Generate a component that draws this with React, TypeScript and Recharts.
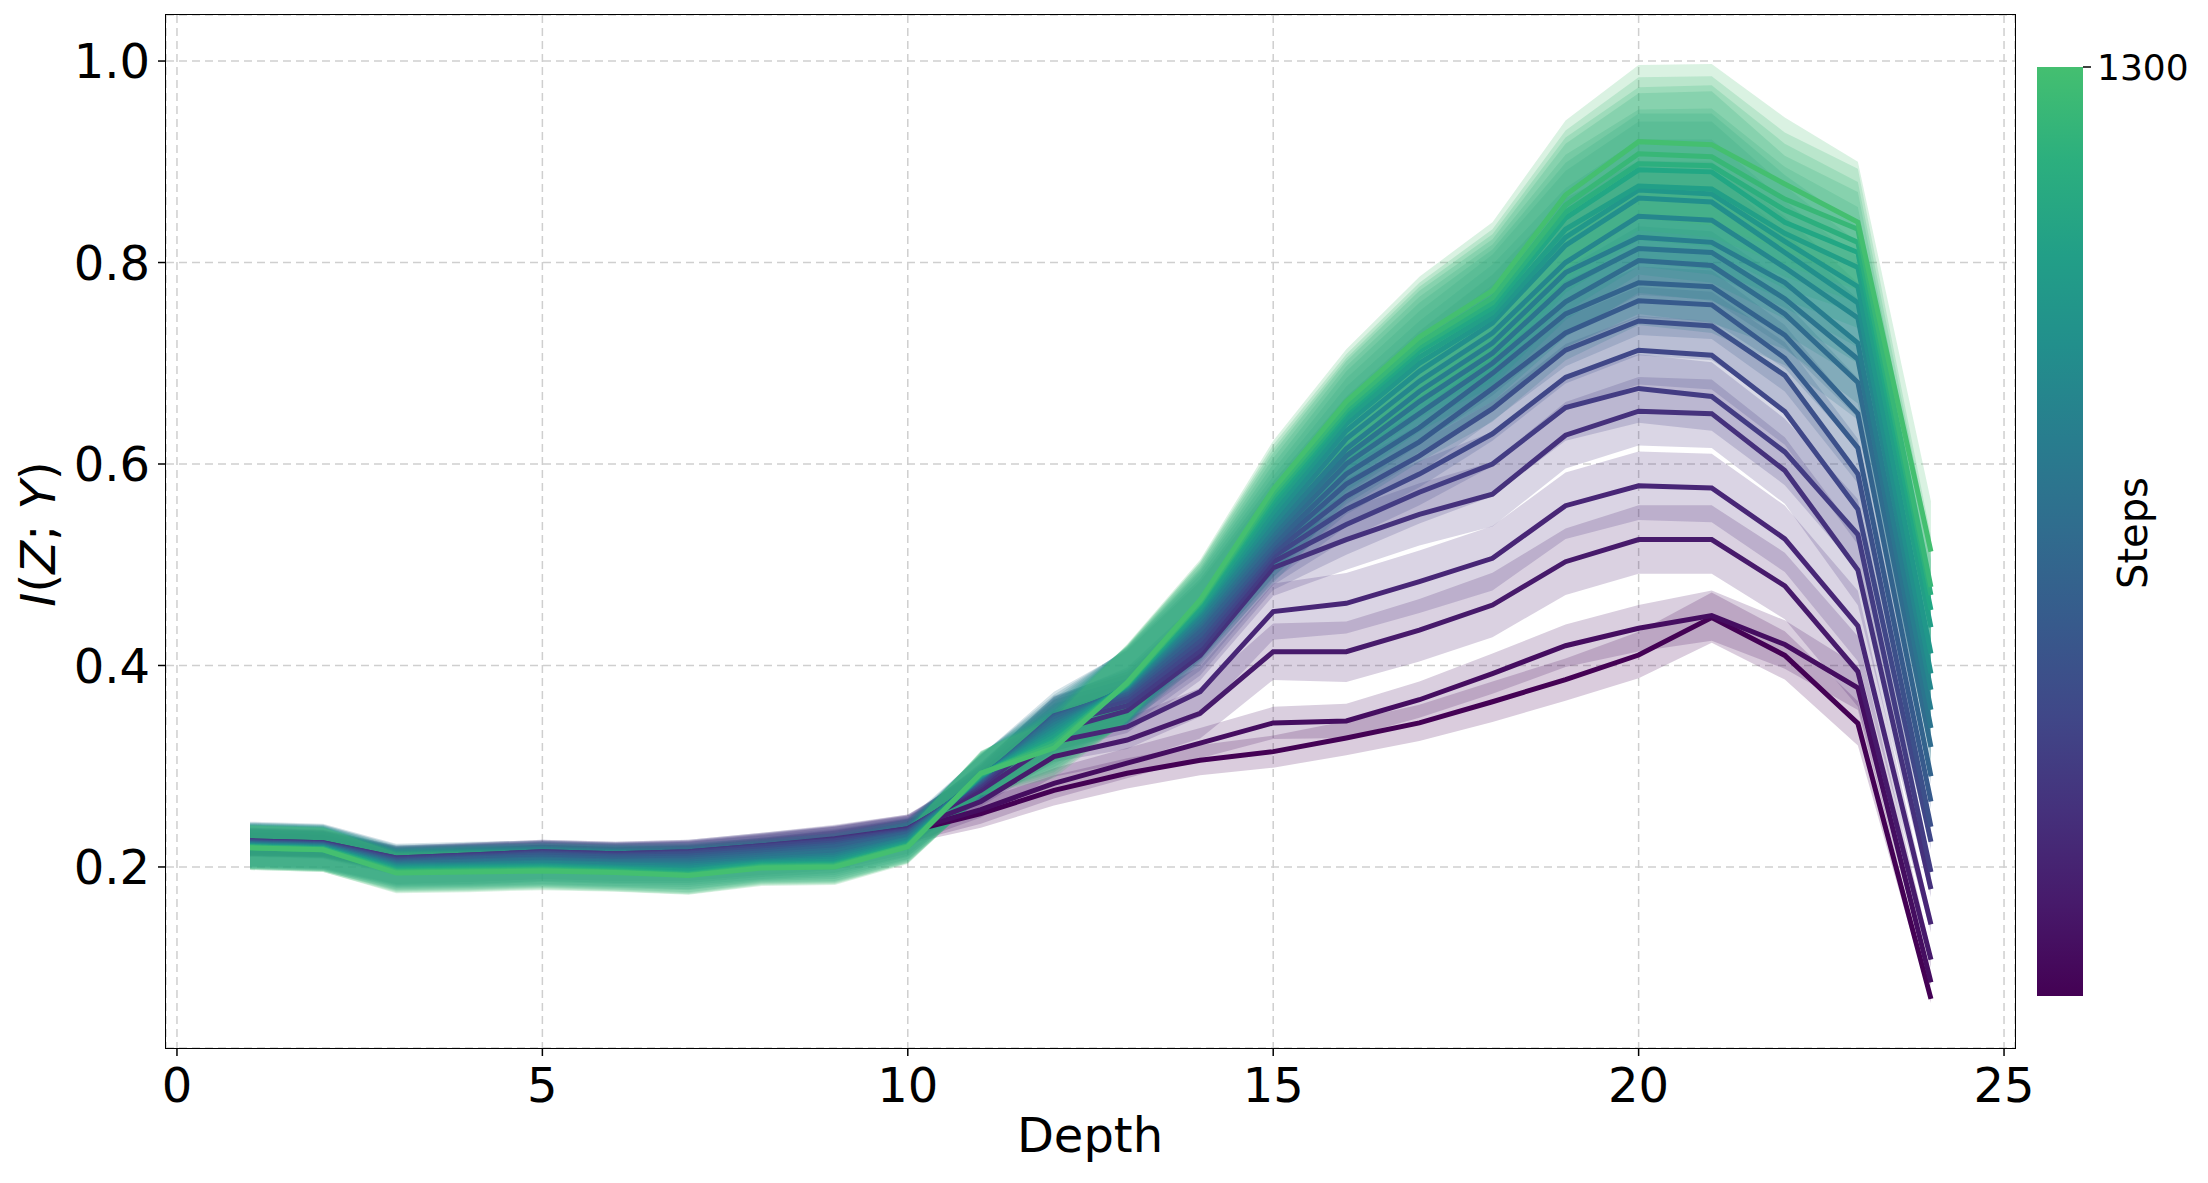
import { ComposedChart, Line, Area, XAxis, YAxis, CartesianGrid } from 'recharts';

const depths = [1, 2, 3, 4, 5, 6, 7, 8, 9, 10, 11, 12, 13, 14, 15, 16, 17, 18, 19, 20, 21, 22, 23, 24];

// training step of each curve (colour only)
const steps = [0, 65, 130, 195, 260, 325, 390, 455, 520, 585, 650, 715, 780, 845, 910, 975, 1040, 1105, 1170, 1235, 1300];

// mean I(Z;Y) per depth, one array per step
const line00 = [0.2225, 0.221, 0.205, 0.208, 0.212, 0.209, 0.211, 0.217, 0.224, 0.235, 0.253, 0.276, 0.293, 0.306, 0.3145, 0.328, 0.343, 0.364, 0.386, 0.4104, 0.4475, 0.41, 0.3425, 0.069];
const line01 = [0.223, 0.222, 0.206, 0.209, 0.212, 0.21, 0.212, 0.218, 0.225, 0.236, 0.257, 0.283, 0.303, 0.323, 0.343, 0.345, 0.366, 0.392, 0.4196, 0.437, 0.4495, 0.4208, 0.3777, 0.0854];
const line02 = [0.224, 0.222, 0.207, 0.21, 0.213, 0.211, 0.213, 0.219, 0.226, 0.237, 0.265, 0.3095, 0.326, 0.3526, 0.4137, 0.4137, 0.435, 0.46, 0.503, 0.525, 0.525, 0.479, 0.394, 0.108];
const line03 = [0.225, 0.223, 0.208, 0.211, 0.214, 0.212, 0.214, 0.22, 0.227, 0.238, 0.276, 0.3243, 0.339, 0.374, 0.4535, 0.4617, 0.4832, 0.5064, 0.5586, 0.5784, 0.5763, 0.5257, 0.4392, 0.143];
const line04 = [0.226, 0.224, 0.209, 0.212, 0.215, 0.213, 0.215, 0.221, 0.228, 0.238, 0.28, 0.335, 0.355, 0.41, 0.497, 0.525, 0.55, 0.57, 0.6286, 0.6524, 0.65, 0.5935, 0.4948, 0.178];
const line05 = [0.226, 0.224, 0.209, 0.212, 0.215, 0.213, 0.215, 0.221, 0.227, 0.237, 0.282, 0.342, 0.36, 0.415, 0.503, 0.54, 0.572, 0.6, 0.656, 0.675, 0.667, 0.612, 0.53, 0.195];
const line06 = [0.225, 0.223, 0.208, 0.211, 0.214, 0.212, 0.214, 0.22, 0.226, 0.236, 0.284, 0.346, 0.365, 0.42, 0.508, 0.555, 0.59, 0.63, 0.686, 0.713, 0.708, 0.652, 0.555, 0.225];
const line07 = [0.225, 0.223, 0.207, 0.21, 0.213, 0.211, 0.213, 0.218, 0.224, 0.235, 0.285, 0.349, 0.369, 0.425, 0.512, 0.568, 0.608, 0.655, 0.713, 0.742, 0.737, 0.688, 0.59, 0.24];
const line08 = [0.224, 0.222, 0.206, 0.209, 0.212, 0.21, 0.211, 0.216, 0.222, 0.234, 0.286, 0.35, 0.372, 0.43, 0.516, 0.58, 0.622, 0.675, 0.73, 0.762, 0.758, 0.705, 0.616, 0.265];
const line09 = [0.224, 0.222, 0.205, 0.208, 0.21, 0.208, 0.209, 0.214, 0.22, 0.233, 0.287, 0.349, 0.374, 0.435, 0.52, 0.59, 0.636, 0.69, 0.749, 0.78, 0.776, 0.728, 0.65, 0.29];
const line10 = [0.223, 0.221, 0.204, 0.206, 0.208, 0.206, 0.207, 0.212, 0.217, 0.231, 0.288, 0.347, 0.376, 0.44, 0.525, 0.6, 0.65, 0.7, 0.761, 0.802, 0.797, 0.749, 0.681, 0.319];
const line11 = [0.223, 0.221, 0.203, 0.205, 0.207, 0.205, 0.205, 0.21, 0.215, 0.23, 0.289, 0.344, 0.377, 0.443, 0.53, 0.608, 0.662, 0.71, 0.777, 0.814, 0.81, 0.764, 0.704, 0.338];
const line12 = [0.222, 0.22, 0.202, 0.203, 0.205, 0.203, 0.203, 0.208, 0.212, 0.228, 0.289, 0.341, 0.378, 0.446, 0.535, 0.615, 0.672, 0.72, 0.79, 0.825, 0.82, 0.78, 0.72, 0.356];
const line13 = [0.222, 0.22, 0.201, 0.202, 0.204, 0.202, 0.201, 0.206, 0.21, 0.227, 0.29, 0.338, 0.379, 0.45, 0.54, 0.625, 0.682, 0.73, 0.8, 0.846, 0.842, 0.795, 0.745, 0.376];
const line14 = [0.221, 0.219, 0.2, 0.201, 0.202, 0.2, 0.199, 0.205, 0.208, 0.225, 0.29, 0.335, 0.38, 0.453, 0.546, 0.633, 0.692, 0.74, 0.817, 0.864, 0.86, 0.81, 0.76, 0.392];
const line15 = [0.221, 0.219, 0.199, 0.2, 0.201, 0.199, 0.197, 0.204, 0.206, 0.224, 0.291, 0.332, 0.38, 0.455, 0.552, 0.64, 0.7, 0.745, 0.825, 0.872, 0.868, 0.821, 0.776, 0.412];
const line16 = [0.22, 0.218, 0.198, 0.199, 0.2, 0.198, 0.196, 0.203, 0.204, 0.223, 0.291, 0.329, 0.381, 0.457, 0.558, 0.645, 0.706, 0.75, 0.833, 0.876, 0.873, 0.829, 0.795, 0.438];
const line17 = [0.22, 0.218, 0.197, 0.198, 0.199, 0.197, 0.194, 0.202, 0.203, 0.222, 0.292, 0.326, 0.381, 0.46, 0.563, 0.65, 0.712, 0.755, 0.844, 0.892, 0.89, 0.84, 0.81, 0.455];
const line18 = [0.22, 0.218, 0.196, 0.197, 0.198, 0.196, 0.193, 0.201, 0.202, 0.221, 0.292, 0.324, 0.382, 0.462, 0.567, 0.653, 0.716, 0.76, 0.85, 0.898, 0.896, 0.852, 0.82, 0.47];
const line19 = [0.219, 0.217, 0.195, 0.196, 0.197, 0.195, 0.192, 0.2, 0.201, 0.221, 0.293, 0.321, 0.382, 0.463, 0.571, 0.657, 0.72, 0.765, 0.857, 0.908, 0.905, 0.863, 0.833, 0.478];
const line20 = [0.219, 0.217, 0.194, 0.195, 0.196, 0.1945, 0.1915, 0.199, 0.2, 0.22, 0.293, 0.318, 0.383, 0.465, 0.575, 0.662, 0.726, 0.772, 0.867, 0.92, 0.917, 0.878, 0.84, 0.513];

const means = [line00, line01, line02, line03, line04, line05, line06, line07, line08, line09, line10,
  line11, line12, line13, line14, line15, line16, line17, line18, line19, line20];

// std band half-widths, three typical profiles
const stdEarly = [0.012, 0.011, 0.01, 0.01, 0.01, 0.01, 0.01, 0.011, 0.012, 0.012, 0.014, 0.015, 0.015, 0.015, 0.016, 0.017, 0.018, 0.02, 0.021, 0.023, 0.025, 0.024, 0.022, 0.004];
const stdMid = [0.013, 0.013, 0.012, 0.012, 0.012, 0.012, 0.012, 0.013, 0.014, 0.014, 0.016, 0.02, 0.022, 0.025, 0.028, 0.03, 0.031, 0.032, 0.033, 0.034, 0.034, 0.033, 0.035, 0.008];
const stdLate = [0.022, 0.022, 0.02, 0.02, 0.019, 0.019, 0.019, 0.018, 0.018, 0.017, 0.022, 0.03, 0.038, 0.04, 0.048, 0.052, 0.06, 0.068, 0.074, 0.076, 0.08, 0.066, 0.06, 0.05];
const stdProfiles = [stdEarly, stdMid, stdLate];
const bandGroup = [0, 0, 1, 1, 1, 1, 1, 1, 1, 1, 1, 2, 2, 2, 2, 2, 2, 2, 2, 2, 2];

const xTicks = [0, 5, 10, 15, 20, 25];
const yTicks = [0.2, 0.4, 0.6, 0.8, 1.0];

const W = 2208;
const H = 1183;
const PLOT = { left: 166, top: 15, right: 2015, bottom: 1048 };
const FONT = "'DejaVu Sans', sans-serif";

const VIRIDIS = ['#440154', '#482475', '#414487', '#355f8d', '#2a788e', '#21918c', '#22a884', '#44bf70', '#7ad151', '#bddf26', '#fde725'];
const CMAP_MAX = 0.7;

function viridis(t: number) {
  const p = Math.max(0, Math.min(1, t)) * 10;
  const i = Math.min(9, Math.floor(p));
  const f = p - i;
  const a = VIRIDIS[i];
  const b = VIRIDIS[i + 1];
  const ch = (k: number) => {
    const va = parseInt(a.slice(k, k + 2), 16);
    const vb = parseInt(b.slice(k, k + 2), 16);
    return Math.round(va + (vb - va) * f).toString(16).padStart(2, '0');
  };
  return `#${ch(1)}${ch(3)}${ch(5)}`;
}

const stepColor = (s: number) => viridis((CMAP_MAX * s) / steps[steps.length - 1]);

const rows = depths.map((d, j) => {
  // eslint-disable-next-line @typescript-eslint/no-explicit-any
  const r: any = { depth: d };
  means.forEach((m, i) => {
    const s = stdProfiles[bandGroup[i]][j];
    r[`m${i}`] = m[j];
    r[`b${i}`] = [m[j] - s, m[j] + s];
  });
  return r;
});

const tickStyle = { fontSize: 48, fill: '#000', fontFamily: FONT };

export default function App() {
  const gradStops = [0, 0.1, 0.2, 0.3, 0.4, 0.5, 0.6, 0.7, 0.8, 0.9, 1].map((t) => `${viridis(t * CMAP_MAX)} ${(1 - t) * 100}%`).reverse();

  return (
    <div style={{ position: 'relative', width: W, height: H, background: '#fff', fontFamily: FONT }}>
      <style>{`body{margin:0}`}</style>
      <ComposedChart width={W} height={H} data={rows} margin={{ top: PLOT.top, right: W - PLOT.right, bottom: 0, left: 0 }}>
        <CartesianGrid stroke="#cfcfcf" strokeWidth={1.5} strokeDasharray="8 5" />
        <XAxis
          dataKey="depth"
          type="number"
          domain={[-0.15, 25.15]}
          ticks={xTicks}
          allowDataOverflow
          height={H - PLOT.bottom}
          axisLine={false}
          tickLine={{ stroke: '#000', strokeWidth: 1.5 }}
          tickSize={8}
          tickMargin={12}
          tick={tickStyle}
        />
        <YAxis
          type="number"
          domain={[0.0203, 1.0457]}
          ticks={yTicks}
          allowDataOverflow
          width={PLOT.left}
          axisLine={false}
          tickLine={{ stroke: '#000', strokeWidth: 1.5 }}
          tickSize={8}
          tickMargin={8}
          tick={tickStyle}
          tickFormatter={(v: number) => v.toFixed(1)}
        />
        {/* bands first, then all mean curves on top */}
        {means.map((_, i) => (
          <Area
            key={`a${i}`}
            dataKey={`b${i}`}
            type="linear"
            stroke="none"
            fill={stepColor(steps[i])}
            fillOpacity={0.2}
            dot={false}
            activeDot={false}
            isAnimationActive={false}
            zIndex={10 + i}
          />
        ))}
        {means.map((_, i) => (
          <Line
            key={`l${i}`}
            dataKey={`m${i}`}
            type="linear"
            stroke={stepColor(steps[i])}
            strokeWidth={5}
            dot={false}
            activeDot={false}
            isAnimationActive={false}
            zIndex={60 + i}
          />
        ))}
      </ComposedChart>

      {/* frame */}
      <div
        style={{
          position: 'absolute',
          left: PLOT.left - 1,
          top: PLOT.top - 1,
          width: PLOT.right - PLOT.left + 2,
          height: PLOT.bottom - PLOT.top + 2,
          border: '1.5px solid #000',
          boxSizing: 'border-box',
          pointerEvents: 'none',
        }}
      />

      {/* colorbar */}
      <div
        style={{
          position: 'absolute',
          left: 2037,
          top: 67,
          width: 46,
          height: 929,
          background: `linear-gradient(to bottom, ${gradStops.join(', ')})`,
        }}
      />

      <svg width={W} height={H} style={{ position: 'absolute', left: 0, top: 0, pointerEvents: 'none' }}>
        <line x1={2083} x2={2091} y1={67} y2={67} stroke="#000" strokeWidth={1.5} />
        <text x={2097} y={67} fontSize={36} fontFamily={FONT} dominantBaseline="central" fill="#000">
          {steps[steps.length - 1]}
        </text>
        <text
          x={2133}
          y={533}
          fontSize={40}
          fontFamily={FONT}
          textAnchor="middle"
          dominantBaseline="central"
          transform="rotate(-90 2133 533)"
          fill="#000"
        >
          Steps
        </text>
        <text x={1090} y={1152} fontSize={48} fontFamily={FONT} textAnchor="middle" fill="#000">
          Depth
        </text>
        <text
          x={38}
          y={534}
          fontSize={48}
          fontFamily={FONT}
          textAnchor="middle"
          dominantBaseline="central"
          transform="rotate(-90 38 534)"
          fill="#000"
        >
          <tspan fontStyle="italic">I</tspan>(<tspan fontStyle="italic">Z</tspan>; <tspan fontStyle="italic">Y</tspan>)
        </text>
      </svg>
    </div>
  );
}
